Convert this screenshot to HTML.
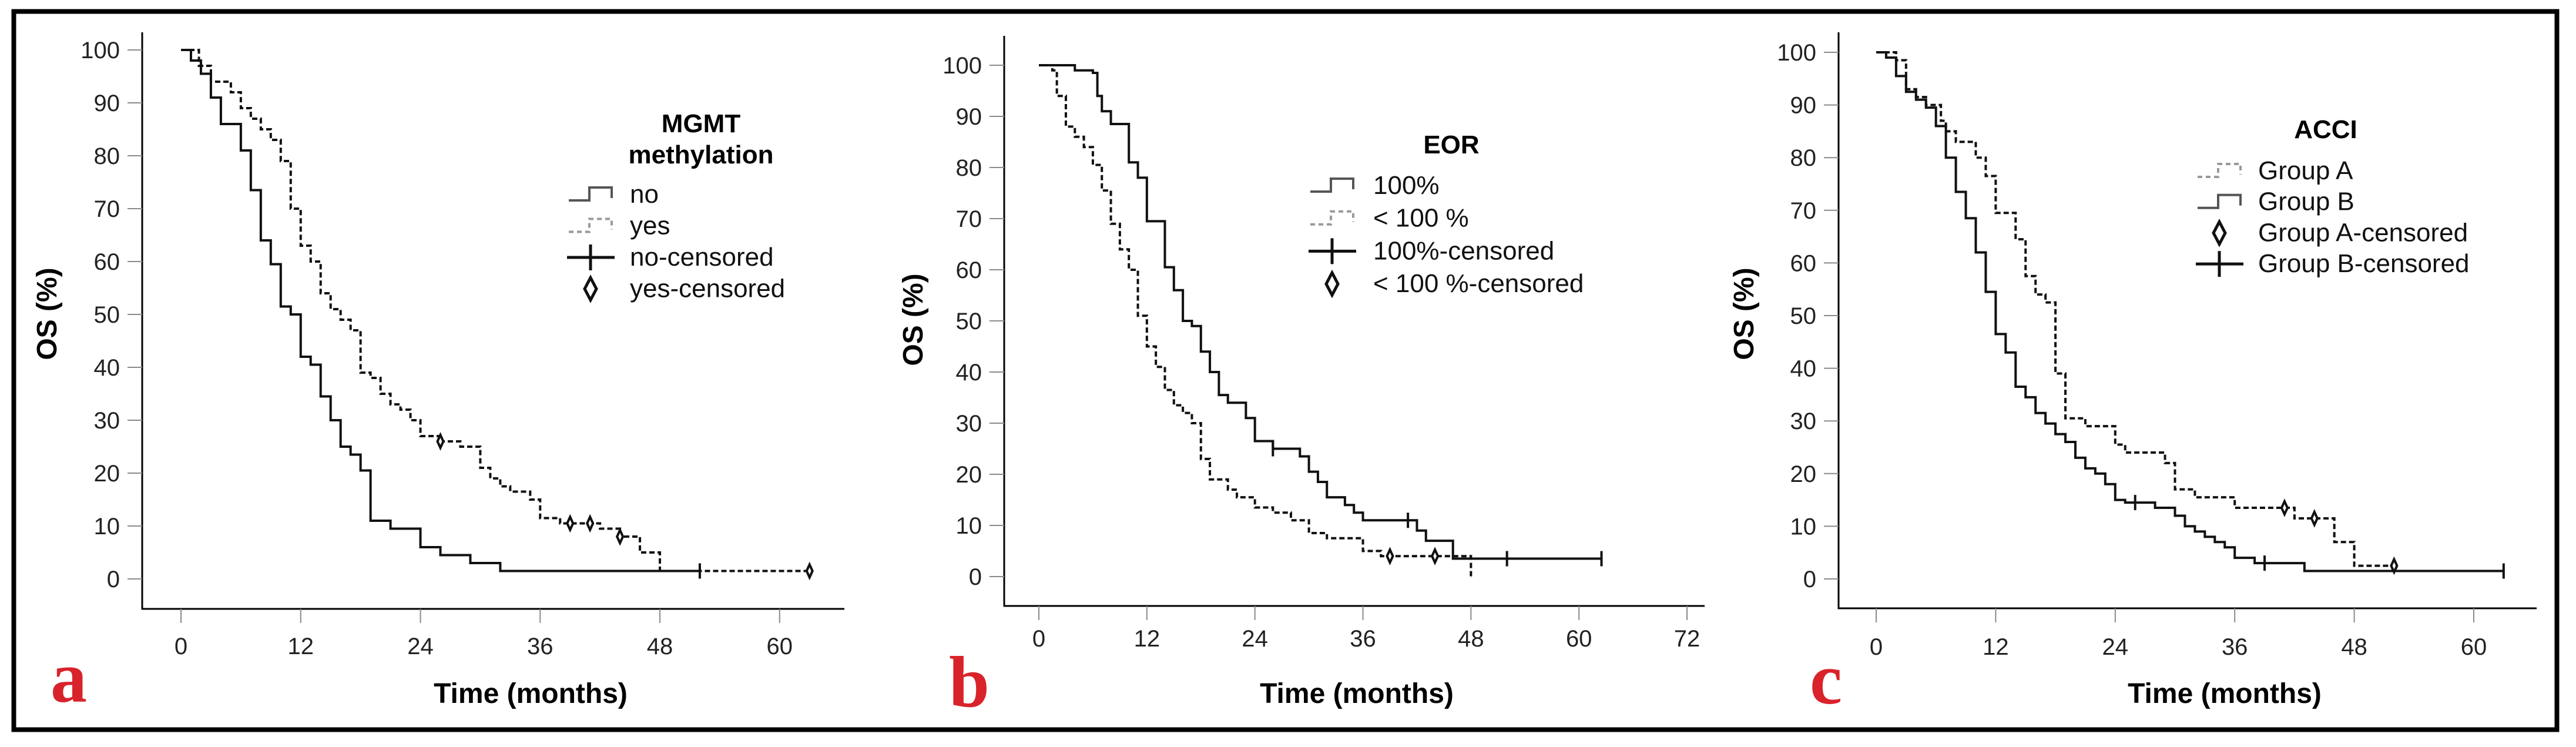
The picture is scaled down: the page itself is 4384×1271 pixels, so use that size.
<!DOCTYPE html>
<html><head><meta charset="utf-8"><style>
html,body{margin:0;padding:0;background:#fff}
svg{display:block}
text{font-family:"Liberation Sans",sans-serif}
</style></head><body>
<svg id="fig" width="4384" height="1271" viewBox="0 0 4384 1271" xmlns="http://www.w3.org/2000/svg">
<rect x="0" y="0" width="4384" height="1271" fill="#fff"/>
<rect x="23.5" y="19.5" width="4328" height="1222" fill="none" stroke="#000" stroke-width="8"/>
<g id="root"></g>
</svg>
<script>
// ---------- data ----------
const yTicks = [0,10,20,30,40,50,60,70,80,90,100];
const xTicksA = [0,12,24,36,48,60];
const xTicksB = [0,12,24,36,48,60,72];
const xTicksC = [0,12,24,36,48,60];

// Panel a: MGMT methylation
const aNoT = [1,2,3,4,6,7,8,9,10,11,12,13,14,15,16,17,18,19,21,24,26,29,32];
const aNoS = [98,95.5,91,86,81,73.5,64,59.5,51.5,50,42,40.5,34.5,30,25,23.5,20.5,11,9.5,6,4.5,3,1.5];
const aNoEnd = 52;
const aNoCensT = [52];
const aYesT = [1.8,3,5,6,7,8,9,10,11,12,13,14,15,16,17,18,19,20,21,22,23,24,26,28,30,31,32,33,35,36,38,42,44,46,48];
const aYesS = [97,94,92,89,87,85,83,79,70,63,60,54,51,49,47,39,38,35,33,32,30,27,26,25,21,19,17.5,16.5,15,11.5,10.5,9.5,8,5,1.5];
const aYesEnd = 63;
const aYesCensT = [26,39,41,44,63];

// Panel b: EOR
const bFullT = [4,6,6.5,7,8,10,11,12,14,15,16,17,18,19,20,21,23,24,26,29,30,31,32,34,35,36,42,43,46];
const bFullS = [99,98.5,94,91,88.5,81,78,69.5,60.5,56,50,49,44,40,35.5,34,31,26.5,25,23.5,20.5,18.5,15.5,14,12.5,11,9,7,3.5];
const bFullEnd = 62.5;
const bFullCensT = [26,41,52,62.5];
const bPartT = [1.5,2,3,4,5,6,7,8,9,10,11,12,13,14,15,16,17,18,19,21,22,24,26,28,30,32,36,38,48];
const bPartS = [99,94,88,86,84,80.5,75.5,69,64,60,51,45,41,36.5,33.5,32,30,23,19,17,15.5,13.5,12.5,11,8.5,7.5,5,4,0];
const bPartEnd = 48;
const bPartCensT = [39,44];

// Panel c: ACCI
const cAT = [2,3,4,5,6.5,7,8,10,11,12,14,15,16,17,18,19,21,24,25,29,30,32,36,42,46,48];
const cAS = [98.5,93,91.5,90,87,85,83,80,76.5,69.5,64.5,57.5,54,52.5,39,30.5,29,25.5,24,22,17,15.5,13.5,11.5,7,2.5];
const cAEnd = 52;
const cACensT = [41,44,52];
const cBT = [1,2,3,4,5,6,7,8,9,10,11,12,13,14,15,16,17,18,19,20,21,22,23,24,25,28,30,31,32,33,34,35,36,38,43];
const cBS = [99,95.5,92.5,91,89.5,86,80,73.5,68.5,62,54.5,46.5,43,36.5,34.5,31.5,29.5,27.5,26,23,21,20,18,15,14.5,13.5,12,10,9,8,7,6,4,3,1.5];
const cBEnd = 63;
const cBCensT = [26,39,63];

// ---------- drawing ----------
const NS = "http://www.w3.org/2000/svg";
const root = document.getElementById('root');
function mk(tag, attrs, parent){
  const e = document.createElementNS(NS, tag);
  for (const k in attrs) e.setAttribute(k, attrs[k]);
  (parent||root).appendChild(e);
  return e;
}
function survAt(T,S,t){let s=100;for(let i=0;i<T.length;i++){if(T[i]<=t+1e-9)s=S[i];}return s;}

function panel(p){
  const g = mk('g',{});
  
  
  const X = t => p.x0 + t*p.pxm;
  const Y = s => p.y0 - s*p.pxs;
  // axes
  const ya = mk('line',{x1:p.axX,y1:p.axTop,x2:p.axX,y2:p.axY+1.5,stroke:'#000','stroke-width':3},g);
  
  
  const xa = mk('line',{x1:p.axX-1.5,y1:p.axY,x2:p.axRight,y2:p.axY,stroke:'#000','stroke-width':3},g);
  
  
  yTicks.forEach(v=>{
    const tk = mk('line',{x1:p.axX-25,y1:Y(v),x2:p.axX,y2:Y(v),stroke:'#8a8a8a','stroke-width':2},g);
    
    
    const tl = mk('text',{x:p.axX-38,y:Y(v)+14,'text-anchor':'end','font-size':40,fill:'#222'},g);
    tl.textContent = v;
    
    
  });
  p.xticks.forEach(v=>{
    const tk = mk('line',{x1:X(v),y1:p.axY,x2:X(v),y2:p.axY+24,stroke:'#8a8a8a','stroke-width':2},g);
    
    
    const tl = mk('text',{x:X(v),y:p.xlabY,'text-anchor':'middle','font-size':40,fill:'#222'},g);
    tl.textContent = v;
    
    
  });
  const xt = mk('text',{x:p.xtX,y:1196,'text-anchor':'middle','font-size':48,'font-weight':'bold',fill:'#000'},g);
  xt.textContent='Time (months)';
  
  
  const yt = mk('text',{x:0,y:0,'text-anchor':'middle','font-size':48,'font-weight':'bold',fill:'#000',transform:`translate(${p.ytX+17},${p.ytY}) rotate(-90)`},g);
  yt.textContent='OS (%)';
  
  
  const lt = mk('text',{x:p.letX,y:p.letY,'font-size':124,'font-weight':'bold',fill:'#d9232b',style:'font-family:"Liberation Serif",serif'},g);
  lt.textContent=p.letter;
  
  
  // curves
  p.series.forEach(sr=>{
    let d = `M${X(0)},${Y(100)}`;
    sr.T.forEach((t,i)=>{ d += ` H${X(t)} V${Y(sr.S[i])}`; });
    d += ` H${X(sr.end)}`;
    const path = mk('path',{d:d,fill:'none',stroke:'#111','stroke-width':4,'stroke-dasharray':sr.dash?'9 5':'none','stroke-linejoin':'miter'},g);
    
    
    sr.cens.forEach(t=>{
      const cx=X(t), cy=Y(survAt(sr.T,sr.S,t));
      let m;
      if(sr.mark==='plus'){
        m = mk('path',{d:`M${cx},${cy-13} V${cy+13}`,stroke:'#111','stroke-width':4},g);
      } else {
        m = mk('path',{d:`M${cx},${cy-11} L${cx+5},${cy} L${cx},${cy+11} L${cx-5},${cy} Z`,fill:'#fff',stroke:'#111','stroke-width':4},g);
      }
      
      
    });
  });
  // legend
  const lg = mk('g',{},g);
  
  
  p.legTitle.forEach((s,i)=>{
    const t = mk('text',{x:p.legTX,y:p.legTY+i*53,'text-anchor':'middle','font-size':44,'font-weight':'bold',fill:'#000'},lg);
    t.textContent=s;
    
    
  });
  p.legItems.forEach((it,i)=>{
    const by = p.legY0 + i*p.legDy;
    const sx = p.symX, cy = by-14;
    let sym;
    if(it.kind==='solid'||it.kind==='dash'){
      sym = mk('path',{d:`M${sx},${cy+10} H${sx+35} V${cy-12} H${sx+73} V${cy+6}`,fill:'none',stroke:it.kind==='solid'?'#555':'#999','stroke-width':4,'stroke-dasharray':it.kind==='dash'?'8 6':'none'},lg);
    } else if(it.kind==='plus'){
      sym = mk('path',{d:`M${sx-3},${cy} H${sx+78} M${sx+37},${cy-22} V${cy+22}`,fill:'none',stroke:'#111','stroke-width':5},lg);
    } else {
      const c=sx+37;
      sym = mk('path',{d:`M${c},${cy-19} L${c+10},${cy} L${c},${cy+19} L${c-10},${cy} Z`,fill:'#fff',stroke:'#111','stroke-width':5},lg);
    }
    
    
    const t = mk('text',{x:p.legTextX,y:by,'font-size':44,fill:'#111'},lg);
    t.textContent=it.label;
    
    
  });
}

panel({name:'panel-a-mgmt',x0:308,pxm:16.98,y0:985,pxs:9.0,axX:242,axTop:55,axY:1036,axRight:1437,
  xticks:xTicksA,xlabY:1113,xtX:903,ytX:79,ytY:534,letter:'a',letX:86,letY:1194,
  series:[{name:'curve-no',T:aNoT,S:aNoS,end:aNoEnd,cens:aNoCensT,dash:false,mark:'plus'},
          {name:'curve-yes',T:aYesT,S:aYesS,end:aYesEnd,cens:aYesCensT,dash:true,mark:'diamond'}],
  legTitle:['MGMT','methylation'],legTX:1193,legTY:225,legY0:345,legDy:53.5,symX:968,legTextX:1072,
  legItems:[{kind:'solid',label:'no'},{kind:'dash',label:'yes'},{kind:'plus',label:'no-censored'},{kind:'diamond',label:'yes-censored'}]});

panel({name:'panel-b-eor',x0:1768,pxm:15.32,y0:981,pxs:8.7,axX:1709,axTop:61,axY:1031,axRight:2901,
  xticks:xTicksB,xlabY:1100,xtX:2309,ytX:1553,ytY:544,letter:'b',letX:1615,letY:1202,
  series:[{name:'curve-100pct',T:bFullT,S:bFullS,end:bFullEnd,cens:bFullCensT,dash:false,mark:'plus'},
          {name:'curve-lt100pct',T:bPartT,S:bPartS,end:bPartEnd,cens:bPartCensT,dash:true,mark:'diamond'}],
  legTitle:['EOR'],legTX:2470,legTY:261,legY0:330,legDy:55.7,symX:2230,legTextX:2337,
  legItems:[{kind:'solid',label:'100%'},{kind:'dash',label:'< 100 %'},{kind:'plus',label:'100%-censored'},{kind:'diamond',label:'< 100 %-censored'}]});

panel({name:'panel-c-acci',x0:3193,pxm:16.95,y0:985,pxs:8.96,axX:3129,axTop:55,axY:1035,axRight:4317,
  xticks:xTicksC,xlabY:1114,xtX:3786,ytX:2967,ytY:534,letter:'c',letX:3080,letY:1197,
  series:[{name:'curve-group-a',T:cAT,S:cAS,end:cAEnd,cens:cACensT,dash:true,mark:'diamond'},
          {name:'curve-group-b',T:cBT,S:cBS,end:cBEnd,cens:cBCensT,dash:false,mark:'plus'}],
  legTitle:['ACCI'],legTX:3958,legTY:235,legY0:305,legDy:52.7,symX:3740,legTextX:3843,
  legItems:[{kind:'dash',label:'Group A'},{kind:'solid',label:'Group B'},{kind:'diamond',label:'Group A-censored'},{kind:'plus',label:'Group B-censored'}]});
</script>
</body></html>
